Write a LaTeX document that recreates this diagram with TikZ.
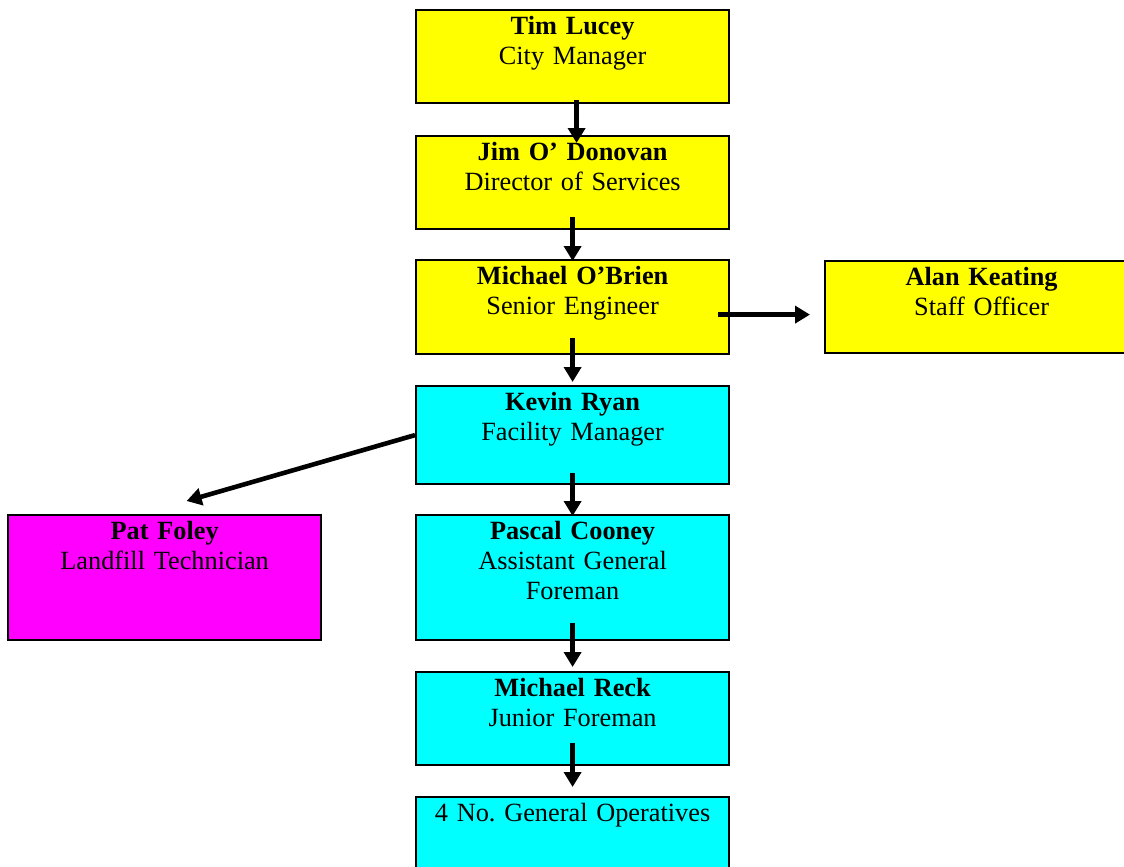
\documentclass[tikz,border=0pt]{standalone}
\usepackage{fontspec}
\setmainfont[WordSpace=0.85]{Liberation Serif}
\usetikzlibrary{arrows.meta}
\definecolor{lemon}{HTML}{FFFF00}
\definecolor{aqua}{HTML}{00FFFF}
\definecolor{pink}{HTML}{FF00FF}
\tikzset{
  post/.style={draw=black, line width=2.2pt, inner sep=0pt, anchor=north west,
    text width=313pt, align=center, text height=24.5pt,
    font=\fontsize{26.3}{30}\selectfont},
  link/.style={draw=black, line width=4.6pt, -{Triangle[length=15pt,width=17pt]}}
}
\begin{document}
\begin{tikzpicture}[x=1pt,y=-1pt]
  \useasboundingbox (0,0) rectangle (1124,867);
  \clip (0,0) rectangle (1124,867);

  % yellow row
  \node[post, fill=lemon, text depth=68.5pt] (tim) at (415,9) {\textbf{Tim Lucey}\\City Manager};
  \node[post, fill=lemon, text depth=68.5pt] (jim) at (415,135) {\textbf{Jim O’ Donovan}\\Director of Services};
  \node[post, fill=lemon, text depth=69.5pt] (obrien) at (415,259) {\textbf{Michael O’Brien}\\Senior Engineer};
  \node[post, fill=lemon, text depth=67.5pt] (alan) at (824,260) {\textbf{Alan Keating}\\Staff Officer};

  % cyan and magenta
  \node[post, fill=aqua, text depth=73.5pt] (kevin) at (415,385) {\textbf{Kevin Ryan}\\Facility Manager};
  \node[post, fill=pink, text depth=100.5pt] (pat) at (7,514) {\textbf{Pat Foley}\\Landfill Technician};
  \node[post, fill=aqua, text depth=100.5pt] (pascal) at (415,514) {\textbf{Pascal Cooney}\\Assistant General\\Foreman};
  \node[post, fill=aqua, text depth=68.5pt] (reck) at (415,671) {\textbf{Michael Reck}\\Junior Foreman};
  \node[post, fill=aqua, text depth=68.5pt] (ops) at (415,796) {4 No.\ General Operatives};

  \draw[link, shorten <=-4pt, shorten >=-8pt] ([xshift=4pt]tim.south) -- ([xshift=4pt]jim.north);
  \draw[link, shorten <=-13pt, shorten >=-2pt] (jim.south) -- (obrien.north);
  \draw[link, shorten <=-17pt, shorten >=3pt] (obrien.south) -- (kevin.north);
  \draw[link, shorten <=-12pt, shorten >=-2pt] (kevin.south) -- (pascal.north);
  \draw[link, shorten <=-18pt, shorten >=4pt] (pascal.south) -- (reck.north);
  \draw[link, shorten <=-23pt, shorten >=9pt] (reck.south) -- (ops.north);
  \draw[link, shorten <=-12pt, shorten >=14pt] ([yshift=-7.5pt]obrien.east) -- ([yshift=-7.5pt]alan.west);
  \draw[link] (kevin.west) -- ([xshift=22pt,yshift=13pt]pat.north);
\end{tikzpicture}
\end{document}
